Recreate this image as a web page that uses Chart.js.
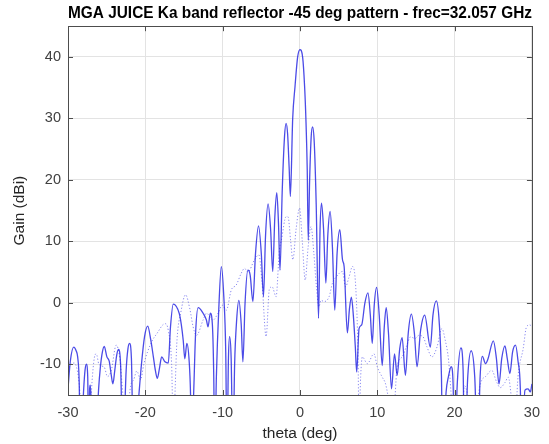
<!DOCTYPE html>
<html>
<head>
<meta charset="utf-8">
<script src="https://cdn.jsdelivr.net/npm/chart.js@4/dist/chart.umd.min.js"></script>
<style>
  html, body { margin: 0; padding: 0; background: #fff; }
  canvas { display: block; }
</style>
</head>
<body>
<canvas id="chart" width="549" height="444"></canvas>
<script>
// co-polar (solid) pattern
const copolTheta = [
  -30, -29.7, -29.26, -28.95, -28.75, -28.55, -28.4, -27.97, -27.8, -27.63, -27.45, -27.33, -27.2, -27.12, -27.0,
  -26.5, -26.04, -25.83, -25.55, -25.31, -24.97, -24.67, -24.4, -24.2, -23.95, -23.7, -23.47, -23.2, -22.91,
  -22.48, -22.25, -22.05, -21.8, -21.54, -20.9, -20.5, -20.1, -19.69, -19.3, -18.96, -18.7, -18.45, -18.15,
  -17.89, -17.46, -17.03, -16.75, -16.39, -15.62, -15.35, -15.1, -14.89, -14.63, -14.33, -14.15, -14.03,
  -13.73, -13.5, -13.17, -12.53, -12.1, -11.89, -11.59, -11.33, -11.15, -11.03, -10.81, -10.5, -10.17,
  -9.85, -9.6, -9.44, -9.25, -9.1, -8.9, -8.67, -8.45, -8.2, -7.9, -7.6, -7.38, -7.1, -6.74, -6.44, -6.09,
  -5.75, -5.36, -5.0, -4.72, -4.45, -4.12, -3.8, -3.52, -3.25, -3.0, -2.78, -2.58, -2.3, -2.0, -1.8, -1.6,
  -1.4, -1.24, -0.94, -0.64, -0.3, 0, 0.34, 0.6, 0.77, 0.94, 1.07, 1.25, 1.45, 1.63, 1.85, 2.1, 2.4, 2.6,
  2.79, 3.05, 3.35, 3.6, 3.9, 4.2, 4.5, 4.8, 5.15, 5.5, 5.71, 6.13, 6.4, 6.65, 6.9, 7.15, 7.34, 7.64, 7.98,
  8.4, 8.79, 9.1, 9.35, 9.6, 9.91, 10.25, 10.64, 10.9, 11.15, 11.45, 11.84, 12.23, 12.57, 12.9, 13.21,
  13.64, 14.0, 14.41, 14.8, 15.14, 15.6, 16.13, 16.86, 17.2, 17.63, 18.0, 18.3, 18.45, 18.9, 19.2, 19.56,
  19.8, 19.99, 20.35, 20.81, 21.1, 21.28, 21.7, 22.14, 22.6, 22.99, 23.3, 23.59, 24.0, 24.3, 25.01, 25.4,
  25.74, 26.1, 26.51, 26.8, 27.15, 27.5, 27.88, 28.2, 28.5, 28.66, 29.1, 29.5, 29.8, 30
];
const copolGain = [
  -14, -9.5, -7.2, -7.8, -8.8, -13, -25, -14, -11, -10, -12, -25, -14, -13.4, -16,
  -25, -14, -10.7, -8, -7.1, -8.8, -9.5, -11.8, -13.2, -11, -8.5, -7.6, -10, -25,
  -11, -7.5, -6.6, -9, -25, -16, -10, -5.5, -3.8, -6, -8.8, -11, -12.3, -10.5,
  -8.8, -9.6, -9.8, -4, -0.2, -1.7, -3.5, -6.1, -9.1, -6.6, -9.5, -15, -25,
  -14, -5, -0.8, -1.7, -2.8, -3.9, -1.7, -3.5, -12, -25, -12, -1, 5.9,
  1, -8, -25, -9, -5.5, -9, -25, -10, -3, 0.4, -3.5, -9.6, 0, 5.3, 4.5, 0.2,
  8, 12.5, 8, 1.0, 11, 16.1, 12, 5.1, 14, 17.9, 13, 5.3, 18, 27, 29.2, 27.5,
  22, 17.3, 30, 35.2, 40, 41.2, 40, 35.2, 29.8, 21.6, 10.2, 20, 27, 28.6, 26, 16, -2.55, 12,
  16.2, 12, 3.2, 11, 14.85, 9, -1.2, 8, 11.9, 7, 5.9, -4.9, -1, 0.9, -2, -7, -11.25, -4.2, -3.6,
  0, 1.6, -2, -6.6, -0.5, 2.5, -2, -10.2, -4, -0.8, -5, -14.0, -8.3, -11.8, -7.5, -5.65,
  -11.8, -5, -1.85, -5, -10.4, -4.5, -2.0, -7.2, -2, 0.3, -3, -12, -25, -14.5, -12, -10.4,
  -13, -25, -13, -7.35, -11, -25, -12, -7.8, -12, -25, -12, -8.7, -9.9, -9.2, -6.2, -9,
  -13.2, -9, -7.0, -9, -11.5, -8, -6.9, -9.5, -14, -25, -14.2, -14.0, -14.5, -13.2
];

// cross-polar (dotted) pattern
const xpolTheta = [
  -30, -29.6, -29.2, -28.8, -28.5, -28.2, -27.2, -26.9, -26.6, -26.34, -26.0, -25.3, -24.9, -24.4, -23.77,
  -23.3, -22.9, -22.5, -21.9, -21.5, -21.1, -20.6, -20.2, -19.2, -18.5, -17.46, -17.03, -16.6, -16.39,
  -15.9, -15.4, -14.8, -14.24, -13.82, -13.38, -12.53, -12.1, -11.24, -10.6, -10.04, -9.52, -8.88, -8.24,
  -7.6, -7.17, -6.74, -5.88, -5.32, -4.9, -4.38, -3.95, -3.6, -3.09, -2.66, -2.4, -1.8, -1.55, -1.2, -0.92,
  -0.5, -0.05, 0.3, 0.68, 1.05, 1.43, 1.8, 2.1, 2.45, 2.72, 3.13, 3.77, 4.2, 4.72, 5.49, 5.9, 6.3, 6.8,
  7.21, 7.5, 7.64, 7.85, 8.07, 8.71, 9.57, 10.0, 10.64, 11.07, 11.5, 12.0, 12.57, 13.21, 13.8, 14.29,
  14.9, 15.36, 15.9, 16.43, 17.07, 17.72, 18.36, 18.79, 19.22, 19.5, 19.8, 20.8, 21.3, 21.7, 22.5, 23.2,
  23.51, 24.0, 24.8, 25.44, 25.9, 26.5, 26.94, 27.4, 27.8, 28.2, 28.87, 29.3, 29.7, 30
];
const xpolGain = [
  -11, -9.9, -9.8, -11, -14, -20, -20, -13, -9, -8.3, -10, -10.5, -12, -11, -6.9,
  -9, -15, -20, -13.5, -12.5, -11.1, -12.5, -10, -6.4, -5, -3.4, -4.5, -10, -20,
  -6, -1.5, 1.3, -1.0, -3.9, -5.3, -2.8, -1.7, -2.8, -1.7, -0.4, -1.2, 2.1, 2.9,
  4.8, 5.6, 5.0, 7.0, 7.8, 3.2, -5.5, 2.3, 2.6, 1.0, 8.6, 10.2, 14.0, 14.0, 10, 7.0,
  12, 15.4, 10, 3.7, 9, 12.4, 8, 3, -0.65, 0.4, 0.2, 1.0, 3.2, 4.25, 5.1, 2.6, 4, 5.9,
  2.6, -8, -20, -12, -8.8, -9.9, -8.3, -10.4, -12.1, -13.2, -16, -20, -10.4, -8.8, -7, -5.55,
  -5.8, -5.3, -5.5, -7.2, -8.8, -7.2, -4.2, -6.1, -9.35, -14, -20, -20, -13.5, -15, -20, -14,
  -12.6, -12, -11, -12.9, -13.8, -13, -12.1, -16, -20, -12, -7.45, -3.9, -3.6, -3.8
];

const xTicks = [-30, -20, -10, 0, 10, 20, 30];
const yTicks = [-10, 0, 10, 20, 30, 40];

const toPoints = (xs, ys) => xs.map((x, i) => ({ x: x, y: ys[i] }));

// MATLAB style ticks pointing into the axes box
const innerTicks = {
    id: 'innerTicks',
    afterDraw(chart) {
        const { ctx, chartArea: a, scales } = chart;
        const len = 5;
        ctx.save();
        ctx.strokeStyle = '#4d4d4d';
        ctx.lineWidth = 1;
        ctx.beginPath();
        xTicks.forEach(v => {
            const px = Math.round(scales.x.getPixelForValue(v)) + 0.5;
            ctx.moveTo(px, a.bottom); ctx.lineTo(px, a.bottom - len);
            ctx.moveTo(px, a.top); ctx.lineTo(px, a.top + len);
        });
        yTicks.forEach(v => {
            const py = Math.round(scales.y.getPixelForValue(v)) + 0.5;
            ctx.moveTo(a.left, py); ctx.lineTo(a.left + len, py);
            ctx.moveTo(a.right, py); ctx.lineTo(a.right - len, py);
        });
        ctx.stroke();
        ctx.strokeRect(Math.round(a.left) + 0.5, Math.round(a.top) + 0.5,
            Math.round(a.right - a.left), Math.round(a.bottom - a.top));
        ctx.restore();
    }
};

const tickFont = { family: 'Liberation Sans, Arial, sans-serif', size: 14.5 };
const labelFont = { family: 'Liberation Sans, Arial, sans-serif', size: 15.5 };

new Chart(document.getElementById('chart').getContext('2d'), {
    type: 'line',
    data: {
        datasets: [
            {
                label: 'co-polar',
                data: toPoints(copolTheta, copolGain),
                borderColor: 'rgba(30, 30, 225, 0.8)',
                borderWidth: 1.3,
                pointRadius: 0,
                cubicInterpolationMode: 'monotone'
            },
            {
                label: 'cross-polar',
                data: toPoints(xpolTheta, xpolGain),
                borderColor: 'rgba(60, 60, 230, 0.6)',
                borderWidth: 1,
                borderDash: [1.2, 2],
                pointRadius: 0,
                cubicInterpolationMode: 'monotone'
            }
        ]
    },
    options: {
        responsive: false,
        animation: false,
        layout: { padding: { right: 15 } },
        plugins: {
            legend: { display: false },
            tooltip: { enabled: false },
            title: {
                display: true,
                fullSize: false,
                text: 'MGA JUICE Ka band reflector -45 deg pattern - frec=32.057 GHz',
                color: '#000',
                font: { family: 'Liberation Sans, Arial, sans-serif', size: 16, weight: 'bold' },
                padding: { top: 4, bottom: 3 }
            }
        },
        scales: {
            x: {
                type: 'linear',
                min: -30,
                max: 30,
                afterBuildTicks: scale => { scale.ticks = xTicks.map(v => ({ value: v })); },
                afterFit: scale => { scale.height = 49; },
                grid: { color: '#e3e3e3', drawTicks: false },
                border: { display: false },
                ticks: { color: '#404040', font: tickFont, padding: 9, maxRotation: 0 },
                title: {
                    display: true,
                    text: 'theta (deg)',
                    color: '#262626',
                    font: labelFont,
                    padding: { top: 0, bottom: 1 }
                }
            },
            y: {
                type: 'linear',
                min: -15,
                max: 45,
                afterBuildTicks: scale => { scale.ticks = yTicks.map(v => ({ value: v })); },
                afterFit: scale => { scale.width = 68; },
                grid: { color: '#e3e3e3', drawTicks: false },
                border: { display: false },
                ticks: { color: '#404040', font: tickFont, padding: 7 },
                title: {
                    display: true,
                    text: 'Gain (dBi)',
                    color: '#262626',
                    font: labelFont,
                    padding: { top: 10, bottom: 0 }
                }
            }
        }
    },
    plugins: [innerTicks]
});
</script>
</body>
</html>
